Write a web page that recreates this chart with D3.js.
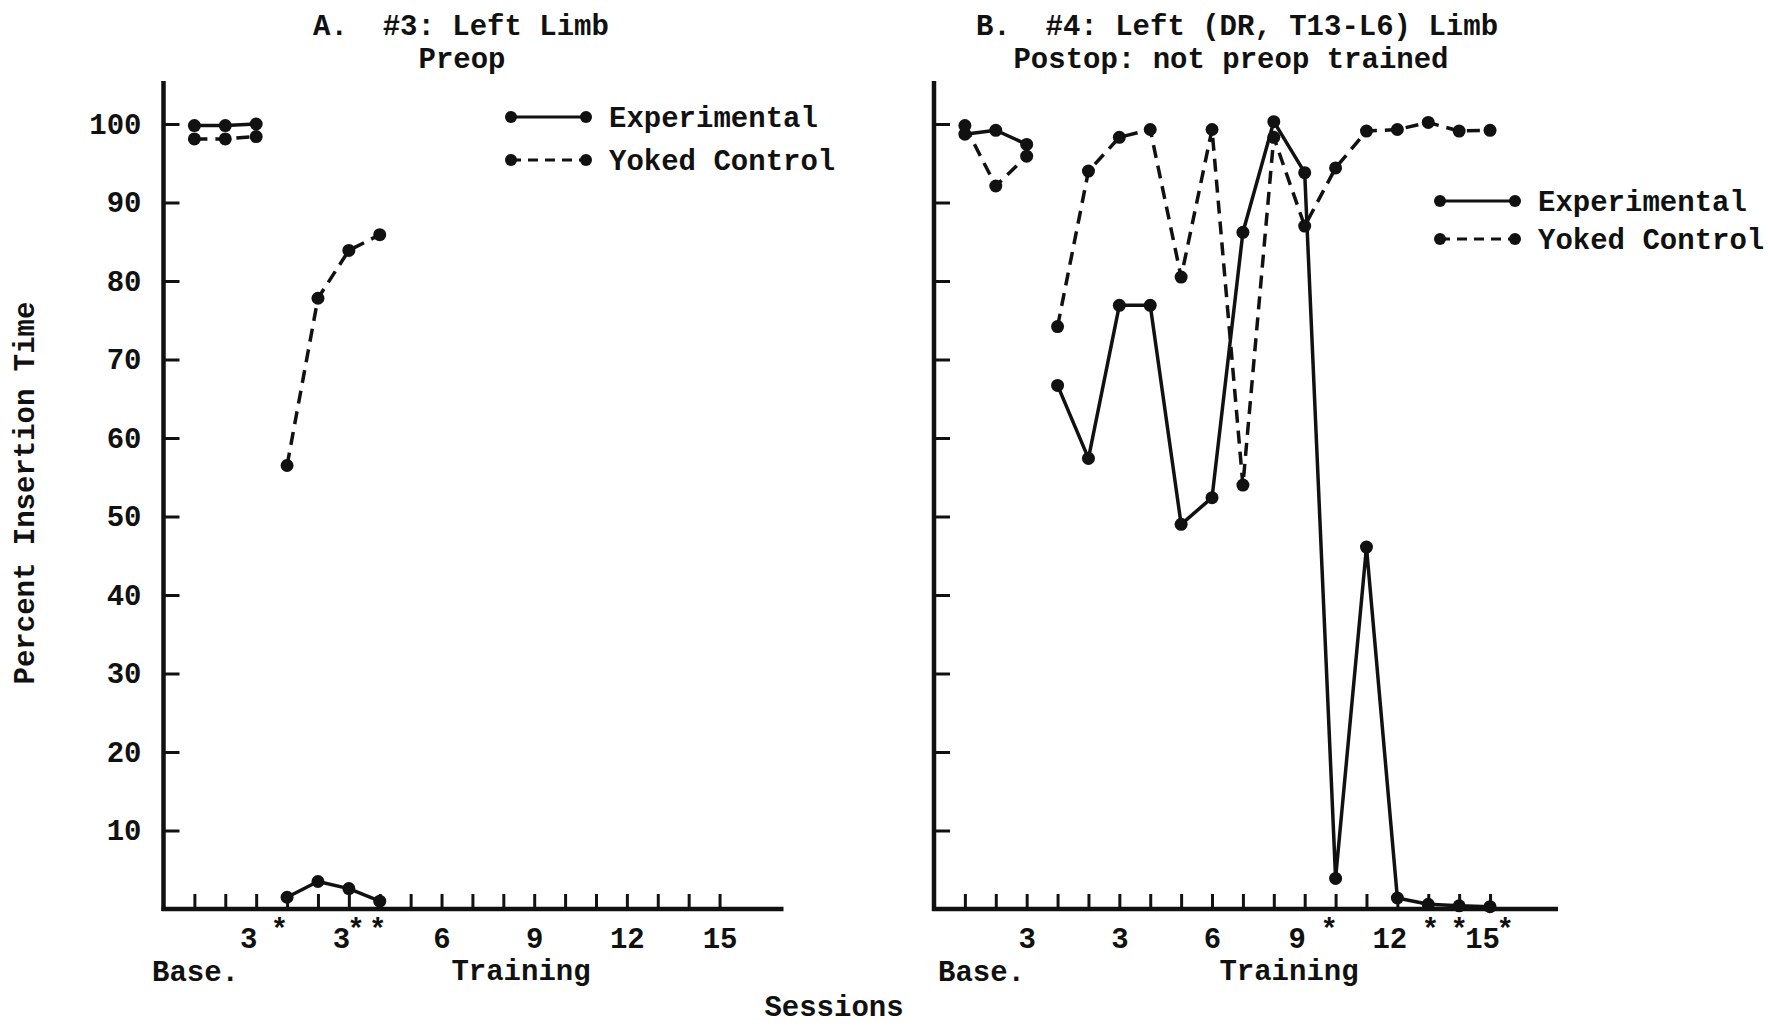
<!DOCTYPE html>
<html><head><meta charset="utf-8">
<script src="https://cdn.jsdelivr.net/npm/d3@7/dist/d3.min.js"></script>
<style>
body{margin:0;background:#fff}
svg text{font-family:"Liberation Mono","DejaVu Sans Mono",monospace;font-weight:bold;font-size:29px;fill:#111;white-space:pre}
</style>
</head><body>
<svg id="chart" width="1768" height="1026"></svg>
<script>
// ---------- data ----------
const yTickValues = [10, 20, 30, 40, 50, 60, 70, 80, 90, 100];
const sessionTicks = [1, 2, 3, 4, 5, 6, 7, 8, 9, 10, 11, 12, 13, 14, 15, 16, 17, 18];
const labeledTicks = [3, 6, 9, 12, 15, 18];
const labeledTickText = ["3", "3", "6", "9", "12", "15"];

// Panel A: #3 Left Limb, Preop
const aBaseSessions = [1, 2, 3];
const aExpBase = [99.8, 99.8, 100];
const aYokedBase = [98.1, 98.1, 98.4];
const aTrainSessions = [4, 5, 6, 7];
const aExpTrain = [1.5, 3.5, 2.6, 1.0];
const aYokedTrain = [56.5, 77.8, 83.9, 85.9];
const aAsterisks = [3.75, 6.23, 6.93];

// Panel B: #4 Left (DR, T13-L6) Limb, Postop
const bBaseSessions = [1, 2, 3];
const bExpBase = [98.7, 99.2, 97.4];
const bYokedBase = [99.8, 92.1, 95.9];
const bTrainSessions = [4, 5, 6, 7, 8, 9, 10, 11, 12, 13, 14, 15, 16, 17, 18];
const bExpTrain = [66.7, 57.4, 76.9, 76.9, 49.0, 52.4, 86.2, 100.3, 93.8, 3.9, 46.1, 1.4, 0.6, 0.4, 0.3];
const bYokedTrain = [74.2, 94.0, 98.3, 99.3, 80.5, 99.3, 54.0, 98.3, 87.0, 94.4, 99.1, 99.3, 100.2, 99.1, 99.2];
const bAsterisks = [12.79, 16.07, 17.0, 18.49];

const seriesNames = ["Experimental", "Yoked Control"];

// ---------- drawing ----------
const svg = d3.select("#chart");
const INK = "#111";
const DASH = "13,8";
const y = d3.scaleLinear().domain([0, 100]).range([909, 124]);

function drawPanel(p) {
  const x = d3.scaleLinear().domain([0, p.xMax]).range([p.left, p.right]);
  const g = svg.append("g");

  // y axis ticks (inside) + labels
  const ya = g.append("g").attr("transform", `translate(${p.left},0)`)
    .call(d3.axisLeft(y).tickValues(yTickValues).tickSize(-16).tickSizeOuter(0)
      .tickPadding(22).tickFormat(p.yLabels ? d3.format("d") : () => ""));
  ya.select(".domain").remove();
  ya.selectAll(".tick line").attr("stroke", INK).attr("stroke-width", 3);

  // x axis ticks (inside) + labels
  const xa = g.append("g").attr("transform", `translate(0,${y(0)})`)
    .call(d3.axisBottom(x).tickValues(sessionTicks).tickSize(-15).tickSizeOuter(0)
      .tickPadding(18).tickFormat(d => {
        const i = labeledTicks.indexOf(d);
        return i >= 0 ? labeledTickText[i] : "";
      }));
  xa.select(".domain").remove();
  xa.selectAll(".tick line").attr("stroke", INK).attr("stroke-width", 3);
  xa.selectAll(".tick text").attr("dx", d =>
    p.asterisks.some(a => a > d && a - d < 1.2) ? -8 : 0);

  // asterisks
  g.selectAll("text.ast").data(p.asterisks).join("text").attr("class", "ast")
    .attr("x", d => x(d)).attr("y", y(0) + 30).attr("text-anchor", "middle").text("*");

  // axis lines
  g.append("line").attr("x1", p.left).attr("x2", p.left).attr("y1", 81).attr("y2", y(0) + 2)
    .attr("stroke", INK).attr("stroke-width", 4.5);
  g.append("line").attr("x1", p.left - 2).attr("x2", p.right).attr("y1", y(0)).attr("y2", y(0))
    .attr("stroke", INK).attr("stroke-width", 4.5);

  // series
  const line = d3.line().x(d => x(d[0])).y(d => y(d[1]));
  p.segments.forEach(s => {
    const pts = s.sessions.map((v, i) => [v, s.values[i]]);
    g.append("path").datum(pts).attr("d", line).attr("fill", "none")
      .attr("stroke", INK).attr("stroke-width", 3.5).attr("stroke-linejoin", "round")
      .attr("stroke-dasharray", s.dashed ? DASH : null);
    g.selectAll(null).data(pts).join("circle")
      .attr("cx", d => x(d[0])).attr("cy", d => y(d[1])).attr("r", 6.5).attr("fill", INK);
  });

  // legend
  p.legend.forEach((lg, i) => {
    const ly = lg.y;
    g.append("line").attr("x1", p.legendX).attr("x2", p.legendX + 75).attr("y1", ly).attr("y2", ly)
      .attr("stroke", INK).attr("stroke-width", 3).attr("stroke-dasharray", i === 1 ? "10,7" : null);
    [p.legendX, p.legendX + 75].forEach(cx =>
      g.append("circle").attr("cx", cx).attr("cy", ly).attr("r", 6).attr("fill", INK));
    g.append("text").attr("x", p.legendX + 98).attr("y", ly + 10).text(seriesNames[i]);
  });

  // titles
  g.append("text").attr("x", p.titleX).attr("y", 35).attr("text-anchor", "middle").text(p.title1);
  g.append("text").attr("x", p.title2X).attr("y", 68).attr("text-anchor", "middle").text(p.title2);

  // bottom labels
  g.append("text").attr("x", p.baseX).attr("y", 981).text("Base.");
  g.append("text").attr("x", p.trainX).attr("y", 980).attr("text-anchor", "middle").text("Training");
}

drawPanel({
  left: 163.5, right: 783.5, xMax: 20.07, yLabels: true,
  asterisks: aAsterisks,
  segments: [
    { sessions: aBaseSessions, values: aExpBase, dashed: false },
    { sessions: aBaseSessions, values: aYokedBase, dashed: true },
    { sessions: aTrainSessions, values: aExpTrain, dashed: false },
    { sessions: aTrainSessions, values: aYokedTrain, dashed: true }
  ],
  legendX: 511, legend: [{ y: 117 }, { y: 160 }],
  title1: "A.\u00a0 #3: Left Limb", titleX: 461, title2: "Preop", title2X: 462,
  baseX: 152, trainX: 521
});

drawPanel({
  left: 934, right: 1558, xMax: 20.2, yLabels: false,
  asterisks: bAsterisks,
  segments: [
    { sessions: bBaseSessions, values: bExpBase, dashed: false },
    { sessions: bBaseSessions, values: bYokedBase, dashed: true },
    { sessions: bTrainSessions, values: bExpTrain, dashed: false },
    { sessions: bTrainSessions, values: bYokedTrain, dashed: true }
  ],
  legendX: 1440, legend: [{ y: 201 }, { y: 239 }],
  title1: "B.\u00a0 #4: Left (DR, T13-L6) Limb", titleX: 1237, title2: "Postop: not preop trained", title2X: 1231,
  baseX: 938, trainX: 1289
});

// shared labels
svg.append("text").attr("transform", "translate(34,493) rotate(-90)")
  .attr("text-anchor", "middle").text("Percent Insertion Time");
svg.append("text").attr("x", 834).attr("y", 1016).attr("text-anchor", "middle").text("Sessions");
</script>
</body></html>
